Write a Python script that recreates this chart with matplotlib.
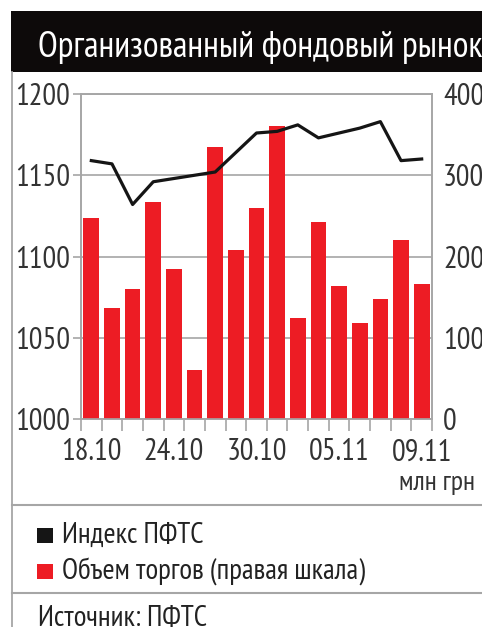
import matplotlib
matplotlib.use("Agg")
import matplotlib.pyplot as plt
import matplotlib.font_manager as fm
from matplotlib.ft2font import FT2Font
from matplotlib.patches import Rectangle
from matplotlib.lines import Line2D
import numpy as np

# ---------------- data ----------------
dates = ["18.10", "19.10", "22.10", "23.10", "24.10", "25.10", "26.10", "29.10", "30.10",
         "31.10", "01.11", "02.11", "05.11", "06.11", "07.11", "08.11", "09.11"]
index_pfts = [1159, 1157, 1132, 1146, 1148, 1150, 1152, 1164, 1176, 1177, 1181, 1173,
              1176, 1179, 1183, 1159, 1160]
volume = [247, 137, 160, 267, 185, 60, 335, 208, 260, 361, 124, 242, 164, 118, 148, 220, 166]
shown_labels = ["18.10", "24.10", "30.10", "05.11", "09.11"]
left_ticks = [1000, 1050, 1100, 1150, 1200]
right_ticks = [0, 100, 200, 300, 400]

title = "Организованный фондовый рынок"
unit = "млн грн"
leg1 = "Индекс ПФТС"
leg2 = "Объем торгов (правая шкала)"
source = "Источник: ПФТС"

# ---------------- font ----------------
def has_cyr(path):
    try:
        cm = FT2Font(path).get_charmap()
        return all(ord(c) in cm for c in "ИОПФбъж")
    except Exception:
        return False

def pick_font():
    best = None
    for f in fm.fontManager.ttflist:
        if f.style != "normal":
            continue
        w = f.weight
        if isinstance(w, str):
            w = {"normal": 400, "regular": 400, "book": 400, "medium": 500}.get(w.lower(), 700)
        if w != 400:
            continue
        name = f.name
        st = str(f.stretch)
        score = None
        if "Narrow" in name:
            score = 0
        elif "Condensed" in name or st in ("condensed", "semi-condensed", "extra-condensed"):
            score = 1 if st != "extra-condensed" else 2
        if score is None:
            continue
        if not has_cyr(f.fname):
            continue
        if best is None or score < best[0]:
            best = (score, f.fname)
    return best[1] if best else None

fpath = pick_font()
def fp(size):
    if fpath:
        return fm.FontProperties(fname=fpath, size=size)
    return fm.FontProperties(family="DejaVu Sans", stretch="condensed", size=size * 0.85)

W, H = 482, 627
fig = plt.figure(figsize=(W / 100, H / 100), dpi=100)
fig.patch.set_facecolor("white")

def fx(px):
    return px / W
def fy(py):
    return 1 - py / H

GREY = "#a6a6a6"
TXT = "#333333"
RED = "#ed1c24"

# title band
fig.patches.append(Rectangle((fx(11), fy(72)), 1, 61 / H, transform=fig.transFigure,
                             facecolor="#0d0a0a", edgecolor="none", zorder=0))
fig.text(fx(38), fy(57), title, color="white", fontproperties=fp(26), va="baseline", ha="left")

# frame lines
fig.add_artist(Line2D([fx(12), fx(12)], [fy(72), 0], transform=fig.transFigure, color=GREY, lw=1.3))
fig.add_artist(Line2D([fx(12), 1], [fy(505), fy(505)], transform=fig.transFigure, color=GREY, lw=1.5))
fig.add_artist(Line2D([fx(12), 1], [fy(593), fy(593)], transform=fig.transFigure, color=GREY, lw=1.5))

# axes
ax2 = fig.add_axes([fx(81), fy(419), (432 - 81) / W, (419 - 94) / H])
ax = ax2.twinx()
x = np.arange(len(dates))

ax2.bar(x, volume, width=0.76, color=RED, zorder=3)
ax2.set_ylim(0, 400)
ax2.set_yticks(right_ticks)
ax2.grid(axis="y", color=GREY, lw=1.2, zorder=0)
ax2.set_axisbelow(True)

ax.plot(x, index_pfts, color="#151515", lw=2.3, solid_joinstyle="round", zorder=4)
ax.set_ylim(1000, 1200)
ax.set_yticks(left_ticks)

ax.set_zorder(ax2.get_zorder() + 1)
ax.patch.set_visible(False)

ax.yaxis.tick_left()
ax2.yaxis.tick_right()
ax.yaxis.set_label_position("left")

for a in (ax, ax2):
    for s in a.spines.values():
        s.set_color(GREY)
        s.set_linewidth(1.2)
    a.set_xlim(-0.5, len(dates) - 0.5)

ax.tick_params(axis="y", which="major", left=True, right=False, length=6, width=1.2,
               color=GREY, pad=2, labelcolor=TXT)
ax2.tick_params(axis="y", which="major", right=False, left=False, length=0, pad=8,
                labelcolor=TXT)
for lab in ax.get_yticklabels():
    lab.set_fontproperties(fp(22))
for lab in ax2.get_yticklabels():
    lab.set_fontproperties(fp(22))

ax2.set_xticks([dates.index(d) for d in shown_labels])
ax2.set_xticklabels(shown_labels)
ax2.set_xticks(np.arange(-0.5, len(dates), 1.0), minor=True)
ax2.tick_params(axis="x", which="major", length=0, pad=14, labelcolor=TXT)
ax2.tick_params(axis="x", which="minor", length=8.5, width=1.2, color=GREY, direction="out")
for lab in ax2.get_xticklabels():
    lab.set_fontproperties(fp(22))
ax.tick_params(axis="x", which="both", bottom=False, labelbottom=False)

fig.text(fx(475), fy(490), unit, color=TXT, fontproperties=fp(20), ha="right", va="baseline")

fig.patches.append(Rectangle((fx(37), fy(543)), 16 / W, 15 / H, transform=fig.transFigure,
                             facecolor="#151515", edgecolor="none"))
fig.patches.append(Rectangle((fx(37), fy(579)), 16 / W, 15 / H, transform=fig.transFigure,
                             facecolor=RED, edgecolor="none"))
fig.text(fx(62), fy(543), leg1, color="#222222", fontproperties=fp(21), ha="left", va="baseline")
fig.text(fx(62), fy(580), leg2, color="#222222", fontproperties=fp(21), ha="left", va="baseline")
fig.text(fx(38), fy(626), source, color="#222222", fontproperties=fp(21), ha="left", va="baseline")

fig.savefig("out.png", dpi=100)
